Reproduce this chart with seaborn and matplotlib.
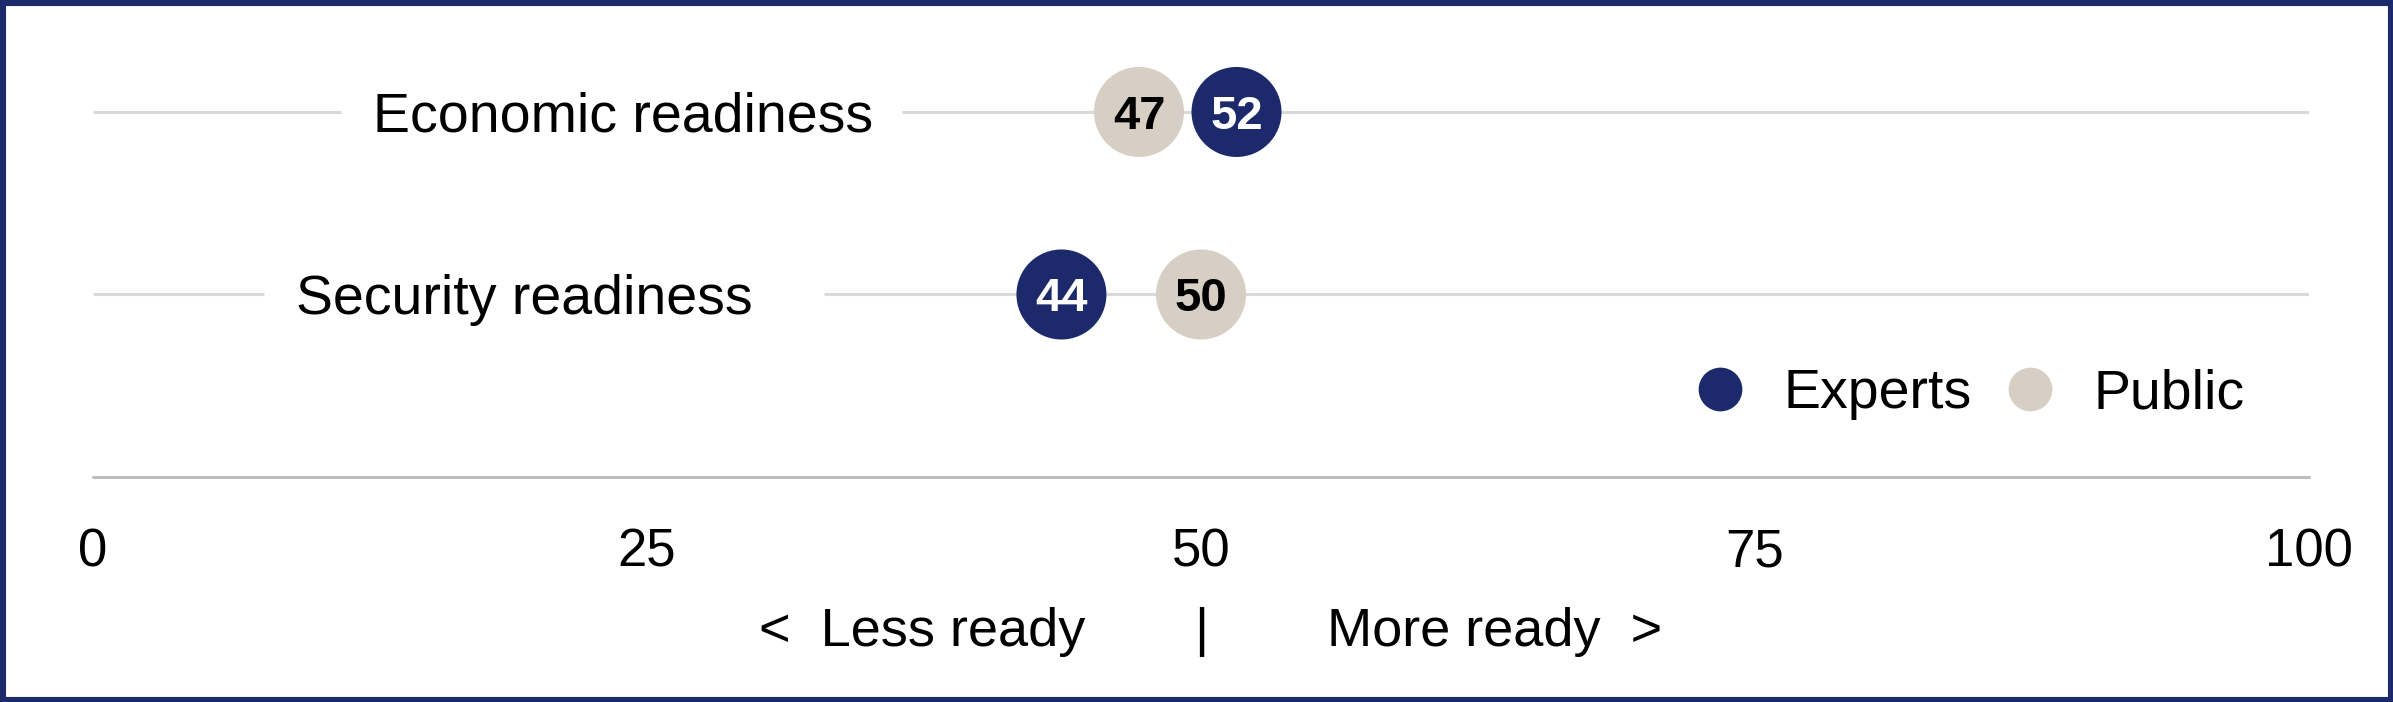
import matplotlib.pyplot as plt
from matplotlib.lines import Line2D
from matplotlib.patches import Rectangle
import seaborn as sns
import pandas as pd

# data
metrics = ["Economic readiness", "Security readiness"]
experts = [51.6, 43.7]
public = [47.2, 50.0]
groups = ["Experts", "Public"]
ticks = [0, 25, 50, 75, 100]

navy = "#1c2a6c"
beige = "#d7cfc4"
palette = {"Experts": navy, "Public": beige}
text_col = {"Experts": "white", "Public": "black"}

rows = []
for i, m in enumerate(metrics):
    rows.append({"metric": m, "row": i, "group": "Experts", "value": experts[i]})
    rows.append({"metric": m, "row": i, "group": "Public", "value": public[i]})
df = pd.DataFrame(rows)

sns.set_style("white")
plt.rcParams["font.family"] = ["Liberation Sans", "DejaVu Sans"]
plt.rcParams["text.color"] = "black"

fig = plt.figure(figsize=(23.93, 7.02), dpi=100)
ax = fig.add_axes([0.0389, 0.3205, 0.926, 0.650])

# row gridlines with a gap for the label
for i, m in enumerate(metrics):
    lo = min(experts[i], public[i])
    gap_end = lo - 10.7
    gap_start = gap_end - 25.3
    ax.hlines(i, 0, gap_start, color="#d9d9d9", lw=2.2, zorder=1)
    ax.hlines(i, gap_end, 100, color="#d9d9d9", lw=2.2, zorder=1)
    ax.text(gap_start + 1.45, i, m, ha="left", va="center_baseline",
            fontsize=40, color="black", zorder=3)

# baseline sits on the lower edge of the axes, so keep it unclipped
ax.axhline(len(metrics), color="#bdbdbd", lw=2.2, zorder=1, clip_on=False)

sns.scatterplot(data=df, x="value", y="row", hue="group", palette=palette,
                s=4200, linewidth=0, legend=False, ax=ax, zorder=4)

for _, r in df.iterrows():
    ax.text(r["value"], r["row"], f"{r['value']:.0f}", ha="center", va="center_baseline",
            fontsize=34, fontweight="bold", color=text_col[r["group"]], zorder=5)

ax.set_xlim(0, 100)
ax.set_ylim(len(metrics), -0.5)
ax.set_xticks(ticks)
ax.set_xticklabels([str(t) for t in ticks], fontsize=38)
ax.set_yticks([])
ax.set_xlabel("")
ax.set_ylabel("")
ax.tick_params(axis="x", length=0, pad=36, colors="black")
for s in ax.spines.values():
    s.set_visible(False)

# less / more ready annotation
y_note = 2.82
ax.text(44.8, y_note, "<  Less ready", ha="right", va="center_baseline", fontsize=39,
        color="black", clip_on=False)
ax.text(50, y_note, "|", ha="center", va="center_baseline", fontsize=39,
        color="black", clip_on=False)
ax.text(55.7, y_note, "More ready  >", ha="left", va="center_baseline", fontsize=39,
        color="black", clip_on=False)

handles = [Line2D([0], [0], marker="o", linestyle="", markersize=31.5,
                  markerfacecolor=palette[g], markeredgewidth=0) for g in groups]
leg = ax.legend(handles, groups, loc="center right",
                bbox_to_anchor=(2245 / 2393, 1 - 394 / 702),
                bbox_transform=fig.transFigure, ncol=2, frameon=False, fontsize=40,
                handlelength=0.8, handletextpad=0.75, columnspacing=0.65,
                borderpad=0, borderaxespad=0)
for t in leg.get_texts():
    t.set_color("black")

fig.patches.append(Rectangle((0, 0), 1, 1, transform=fig.transFigure, fill=False,
                             edgecolor=navy, lw=8, zorder=10))

fig.savefig("out.png", dpi=100)
